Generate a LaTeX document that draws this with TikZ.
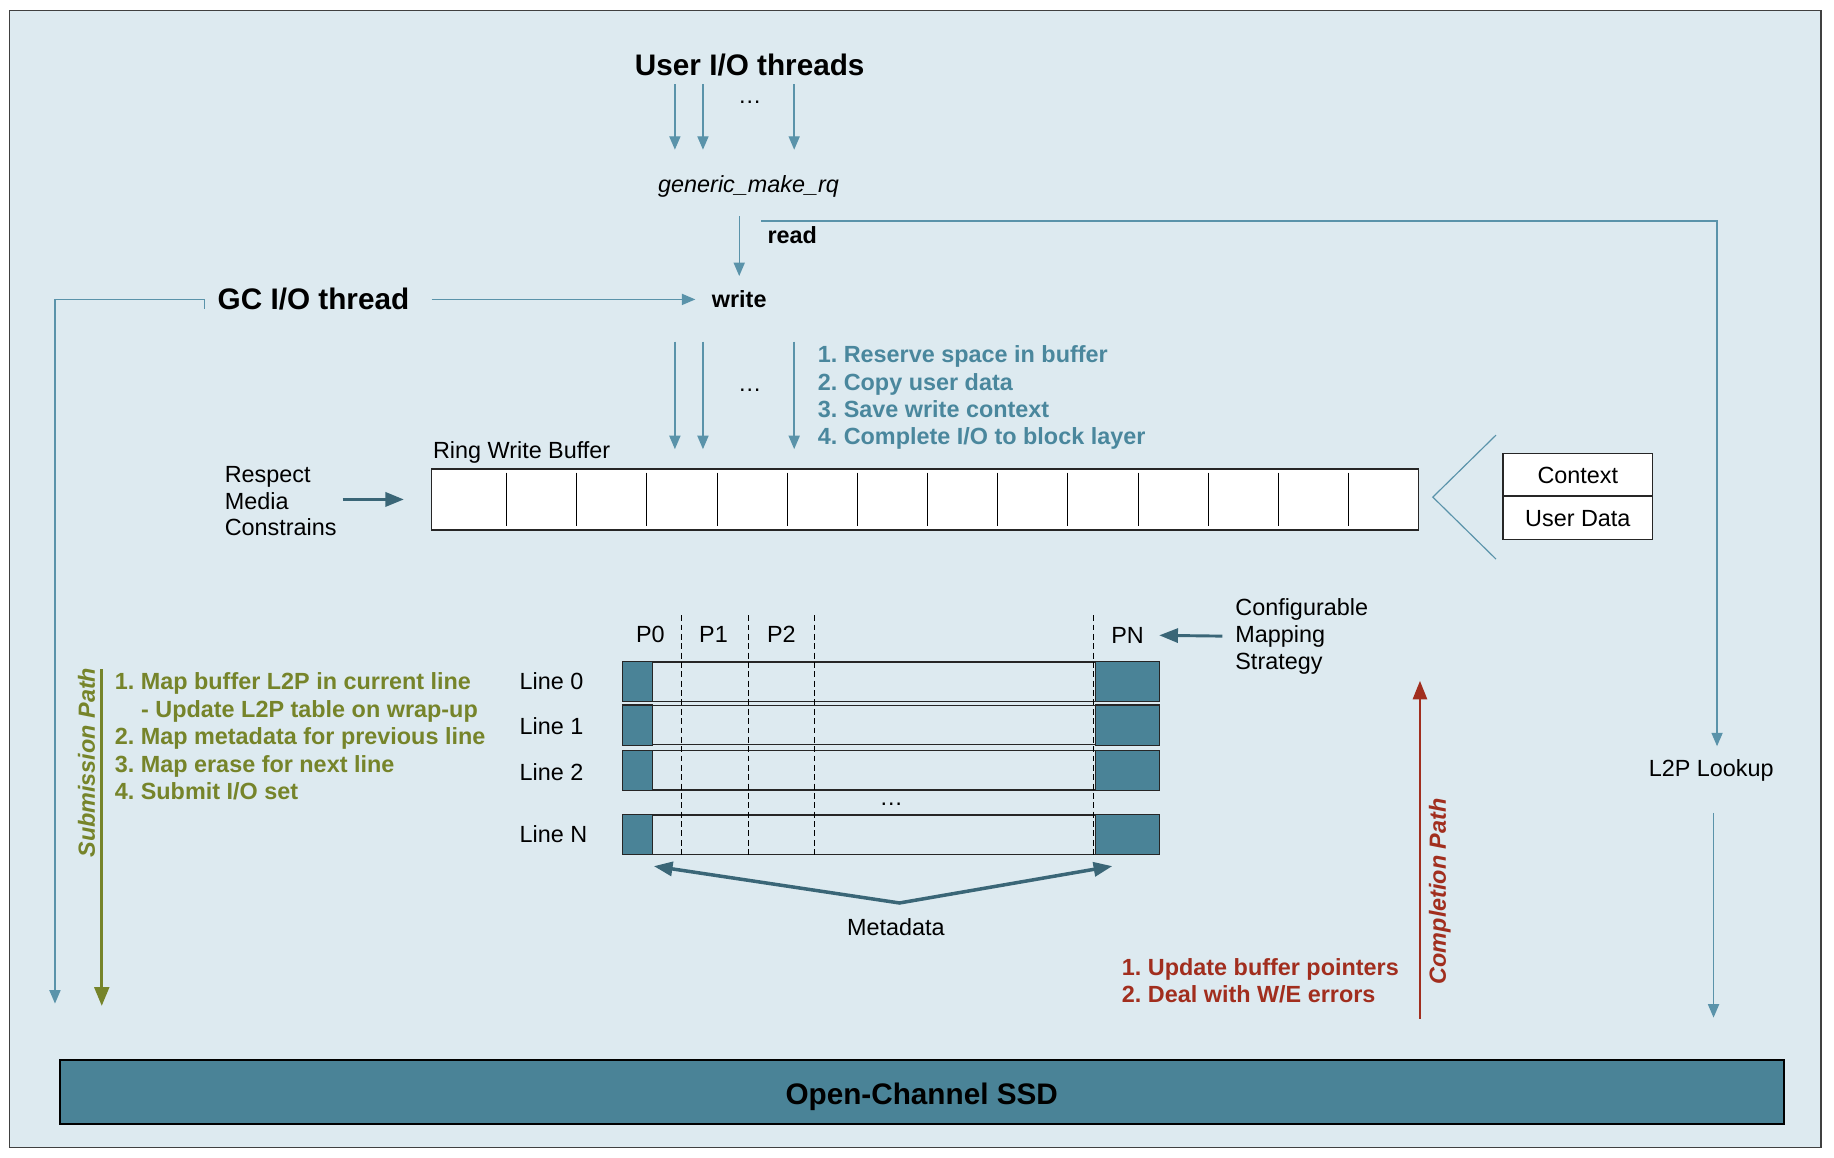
\documentclass[tikz,border=0pt]{standalone}
\usepackage{fontspec}
\setmainfont{Liberation Sans}
\usepackage{xcolor}
\usepackage{tikz}
\usetikzlibrary{arrows.meta}
\frenchspacing

\definecolor{panelbg}{HTML}{DDEAF0}
\definecolor{thinblue}{HTML}{5A93AA}
\definecolor{tealfill}{HTML}{4A8397}
\definecolor{darkteal}{HTML}{3A6677}
\definecolor{subgreen}{HTML}{76842A}
\definecolor{compred}{HTML}{A12E1E}
\definecolor{stepblue}{HTML}{4A879D}

\begin{document}
\begin{tikzpicture}[x=1pt, y=-1pt,
        headtext/.style={inner sep=0pt, font=\fontsize{25.4}{30}\selectfont\bfseries},
        plaintext/.style={inner sep=0pt, font=\fontsize{20}{22.8}\selectfont},
        boldtext/.style={inner sep=0pt, font=\fontsize{20}{23.4}\selectfont\bfseries},
        pathtext/.style={inner sep=0pt, font=\fontsize{20}{24}\selectfont\bfseries\itshape},
        thinarrow/.style={draw=thinblue, line width=1.2pt, -{Triangle[width=9.5pt,length=11.5pt]}},
        thickarrow/.style={draw=darkteal, line width=3pt, -{Triangle[width=12pt,length=16pt]}},
        rowbox/.style={draw=black!85, line width=1pt, minimum width=458pt, minimum height=33.5pt, inner sep=0pt},
        pagecell/.style={draw=black!85, fill=tealfill, line width=1pt}]

    \fill[white] (0,0) rectangle (1568,990);
    \useasboundingbox (0,0) rectangle (1568,990);
    \draw[draw=black!75, fill=panelbg, line width=1.2pt] (8,9) rectangle (1557,981);

    % request entry
    \node[headtext] (user) at (641,56) {User I/O threads};
    \node[plaintext] (udots) at (641,87) {\dots};
    \node[plaintext, font=\fontsize{20}{24}\selectfont\itshape] (generic) at (640,159) {generic\_make\_rq};
    \node[boldtext, anchor=west] (read) at (656,201) {read};
    \node[boldtext] (write) at (632,256) {write};
    \node[headtext] (gc) at (268,256) {GC I/O thread};
    \node[plaintext] (l2p) at (1463,659) {L2P Lookup};

    \coordinate (u1) at (577,72); \coordinate (u1e) at (577,128);
    \coordinate (u2) at (601,72); \coordinate (u2e) at (601,128);
    \coordinate (u3) at (679,72); \coordinate (u3e) at (679,128);
    \coordinate (gsplit) at (632,185); \coordinate (gwrite) at (632,236);
    \coordinate (gcloop) at (175,264); \coordinate (gcend) at (47,858);
    \coordinate (rd) at (651,189); \coordinate (l2pin) at (1468,638);
    \coordinate (l2pout) at (1465,695); \coordinate (l2pend) at (1465,870);

    \draw[thinarrow] (u1) -- (u1e);
    \draw[thinarrow] (u2) -- (u2e);
    \draw[thinarrow] (u3) -- (u3e);
    \draw[thinarrow] (gsplit) -- (gwrite);
    \draw[thinarrow, shorten <=19pt, shorten >=14pt] (gc.east) -- (write.west);
    \draw[thinarrow] (gcloop) -- ++(0,-8) -| (gcend);
    \draw[thinarrow] (rd) -| (l2pin);
    \draw[thinarrow] (l2pout) -- (l2pend);

    % ring write buffer
    \coordinate (w1) at (577,292); \coordinate (w1e) at (577,384);
    \coordinate (w2) at (601,292); \coordinate (w2e) at (601,384);
    \coordinate (w3) at (679,292); \coordinate (w3e) at (679,384);
    \draw[thinarrow] (w1) -- (w1e);
    \draw[thinarrow] (w2) -- (w2e);
    \draw[thinarrow] (w3) -- (w3e);
    \node[plaintext] (wdots) at (641,334) {\dots};
    \node[boldtext, anchor=west, align=left, text=stepblue] (steps) at (699,340)
        {1. Reserve space in buffer\\2. Copy user data\\3. Save write context\\4. Complete I/O to block layer};

    \node[plaintext, anchor=west] (rwb) at (370,387) {Ring Write Buffer};
    \node[draw=black!85, fill=white, line width=1.2pt, minimum width=844pt, minimum height=52pt, inner sep=0pt] (buffer) at (791,427) {};
    \draw[line width=0.8pt] (433,404) -- (433,450) (493,404) -- (493,450) (553,404) -- (553,450) (613,404) -- (613,450)
        (673,404) -- (673,450) (733,404) -- (733,450) (793,404) -- (793,450) (853,404) -- (853,450) (913,404) -- (913,450)
        (973,404) -- (973,450) (1033,404) -- (1033,450) (1093,404) -- (1093,450) (1153,404) -- (1153,450);

    \node[plaintext, anchor=west, align=left] (respect) at (192,428.5) {Respect\\Media\\Constrains};
    \draw[thickarrow, shorten <=5pt, shorten >=23pt] (respect.east |- buffer.west) -- (buffer.west);

    \draw[thinblue, line width=1pt] (1279,372) -- (1225,425) -- (1279,478);
    \node[draw=black!85, fill=white, line width=1pt, plaintext, minimum width=128pt, minimum height=36pt, text height=14.5pt, text depth=0pt] (ctx) at (1349,406) {Context};
    \node[draw=black!85, fill=white, line width=1pt, plaintext, minimum width=128pt, minimum height=37pt, text height=14.5pt, text depth=0pt, below of=ctx, node distance=36.5pt] (udata) {User Data};

    % lines and pages
    \node[rowbox] (line0) at (762,582.8) {};
    \node[rowbox] (line1) at (762,620) {};
    \node[rowbox] (line2) at (762,658.7) {};
    \node[rowbox] (lineN) at (762,713.5) {};
    \draw[pagecell] (line0.north west) rectangle ([xshift=25pt]line0.south west);
    \draw[pagecell] ([xshift=-55pt]line0.north east) rectangle (line0.south east);
    \draw[pagecell] (line1.north west) rectangle ([xshift=25pt]line1.south west);
    \draw[pagecell] ([xshift=-55pt]line1.north east) rectangle (line1.south east);
    \draw[pagecell] (line2.north west) rectangle ([xshift=25pt]line2.south west);
    \draw[pagecell] ([xshift=-55pt]line2.north east) rectangle (line2.south east);
    \draw[pagecell] (lineN.north west) rectangle ([xshift=25pt]lineN.south west);
    \draw[pagecell] ([xshift=-55pt]lineN.north east) rectangle (lineN.south east);

    \draw[dash pattern=on 5pt off 3pt, line width=0.9pt] (583,526) -- (583,731);
    \draw[dash pattern=on 5pt off 3pt, line width=0.9pt] (640,526) -- (640,731);
    \draw[dash pattern=on 5pt off 3pt, line width=0.9pt] (696,526) -- (696,731);
    \draw[dash pattern=on 5pt off 3pt, line width=0.9pt] (935,526) -- (935,731);

    \node[plaintext] (p0) at (556,542) {P0};
    \node[plaintext] (p1) at (610,542) {P1};
    \node[plaintext] (p2) at (668,542) {P2};
    \node[plaintext] (pn) at (964,543) {PN};
    \node[plaintext, anchor=west] (lab0) at (444,582) {Line 0};
    \node[plaintext, anchor=west] (lab1) at (444,621) {Line 1};
    \node[plaintext, anchor=west] (lab2) at (444,660) {Line 2};
    \node[plaintext, anchor=west] (labN) at (444,713) {Line N};
    \node[plaintext] (ldots) at (762,688) {\dots};

    \node[plaintext, anchor=west, align=left] (mapping) at (1056,544) {Configurable\\Mapping\\Strategy};
    \draw[thickarrow, line width=2.5pt, shorten <=11pt, shorten >=13pt] (mapping.west) -- (pn.east);

    \node[plaintext] (meta) at (766,793) {Metadata};
    \coordinate (metaL) at (559,740.5); \coordinate (apex) at (769,772); \coordinate (metaR) at (951,740.5);
    \draw[draw=darkteal, line width=3pt, {Triangle[width=12pt,length=16pt]}-{Triangle[width=12pt,length=16pt]}] (metaL) -- (apex) -- (metaR);

    % submission path
    \node[pathtext, rotate=90, text=subgreen] (subpath) at (74,652) {Submission Path};
    \coordinate (sub) at (87,572); \coordinate (subend) at (87,860);
    \draw[draw=subgreen, line width=2.5pt, -{Triangle[width=12.5pt,length=16pt]}] (sub) -- (subend);
    \node[boldtext, anchor=west, align=left, text=subgreen] (substeps) at (98,629.6)
        {1. Map buffer L2P in current line\\\hspace*{22.5pt}- Update L2P table on wrap-up\\2. Map metadata for previous line\\3. Map erase for next line\\4. Submit I/O set};

    % completion path
    \node[pathtext, rotate=90, text=compred] (comppath) at (1231,762) {Completion Path};
    \coordinate (comp) at (1214,871); \coordinate (compend) at (1214,582);
    \draw[draw=compred, line width=2.5pt, -{Triangle[width=12pt,length=16pt]}] (comp) -- (compend);
    \node[boldtext, anchor=west, align=left, text=compred] (compsteps) at (959,838.5)
        {1. Update buffer pointers\\2. Deal with W/E errors};

    % device
    \node[draw=black, fill=tealfill, line width=1.5pt, minimum width=1474pt, minimum height=55pt, headtext, text height=21pt, text depth=0pt] (ssd) at (788,933.5) {Open-Channel SSD};
\end{tikzpicture}
\end{document}
